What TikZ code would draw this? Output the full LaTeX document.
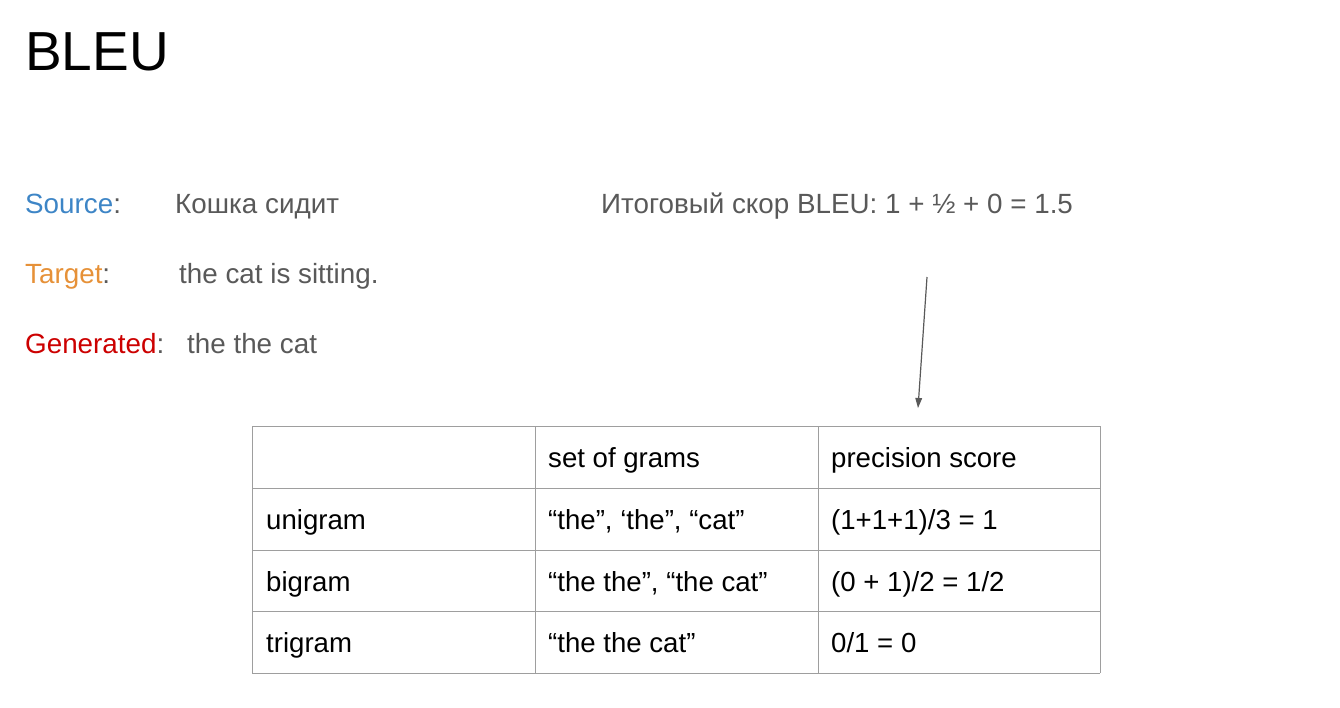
\documentclass[tikz,border=0pt]{standalone}
\usepackage{fontspec}
\setmainfont{Liberation Sans}
\usetikzlibrary{positioning}
\definecolor{srcblue}{HTML}{3D85C6}
\definecolor{tgtorange}{HTML}{E69138}
\definecolor{genred}{HTML}{CC0000}
\definecolor{txtgray}{HTML}{595959}
\definecolor{rulegray}{HTML}{9E9E9E}
\newcommand{\bodysize}{\fontsize{27.8}{32}\selectfont}
\newcommand{\cellsize}{\fontsize{27.6}{32}\selectfont}
\begin{document}
\begin{tikzpicture}[x=1pt,y=-1pt]
    \tikzstyle{every node}+=[inner sep=0pt, anchor=base west]
    \tikzstyle{cell}=[font=\cellsize, text=black]
    \useasboundingbox (0,0) rectangle (1340,707);
    \draw (25,70) node (title) {\fontsize{55}{64}\selectfont BLEU};
    \draw (25,213) node [font=\bodysize, text=srcblue] (srclbl) {Source\textcolor{txtgray}{:}};
    \draw (175,213) node [font=\bodysize, text=txtgray] (src) {Кошка сидит};
    \draw (25,283) node [font=\bodysize, text=tgtorange] (tgtlbl) {Target\textcolor{txtgray}{:}};
    \draw (179,283) node [font=\bodysize, text=txtgray] (tgt) {the cat is sitting.};
    \draw (25,353) node [font=\bodysize, text=genred] (genlbl) {Generated\textcolor{txtgray}{:}};
    \draw (187,353) node [font=\bodysize, text=txtgray] (gen) {the the cat};
    \draw (601,213) node [font=\bodysize, text=txtgray] (total) {Итоговый скор BLEU: 1 + ½ + 0 = 1.5};
    \coordinate (arrtail) at (927,277);
    \coordinate (arrhead) at (918.7,398);
    \draw [txtgray, line width=1.2pt] (arrtail) -- (arrhead);
    \fill [txtgray] (918,408) -- (922.2,398.2) -- (915.2,397.8);
    % table
    \foreach \y in {426,488,550,611,673}
        \draw [rulegray, line width=1pt] (252,\y) -- (1100,\y);
    \foreach \x in {252,535,818,1100}
        \draw [rulegray, line width=1pt] (\x,426) -- (\x,673);
    \draw (548,467) node [cell] (hgrams) {set of grams};
    \draw (831,467) node [cell] (hprec) {precision score};
    \draw (266,529) node [cell] (uni) {unigram};
    \draw (548,529) node [cell] (unigrams) {“the”, ‘the”, “cat”};
    \draw (831,529) node [cell] (uniprec) {(1+1+1)/3 = 1};
    \draw (266,591) node [cell] (bi) {bigram};
    \draw (548,591) node [cell] (bigrams) {“the the”, “the cat”};
    \draw (831,591) node [cell] (biprec) {(0 + 1)/2 = 1/2};
    \draw (266,652) node [cell] (tri) {trigram};
    \draw (548,652) node [cell] (trigrams) {“the the cat”};
    \draw (831,652) node [cell] (triprec) {0/1 = 0};
\end{tikzpicture}
\end{document}
